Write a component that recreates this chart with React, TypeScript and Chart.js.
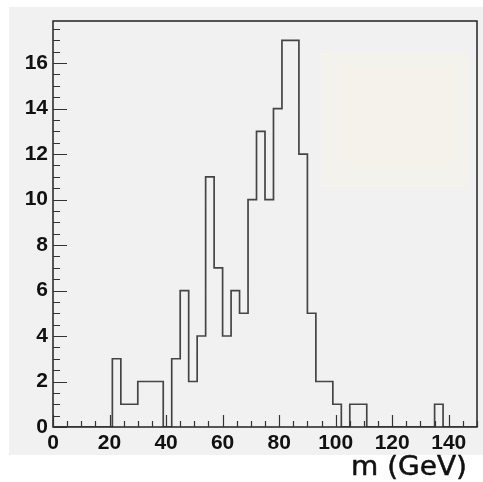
import React, { useEffect, useRef } from "react";
import { Chart, registerables } from "chart.js";

Chart.register(...registerables);

// ---- data ----
const BIN_WIDTH = 3; // GeV
const X_MIN = 0;
const X_MAX = 150;
const Y_MAX = 17.85;
const counts = [
  0, 0, 0, 0, 0, 0, 0, 3, 1, 1,
  2, 2, 2, 0, 3, 6, 2, 4, 11, 7,
  4, 6, 5, 10, 13, 10, 14, 17, 17, 12,
  5, 2, 2, 1, 0, 1, 1, 0, 0, 0,
  0, 0, 0, 0, 0, 1, 0, 0, 0, 0,
];
const xTickValues = [0, 20, 40, 60, 80, 100, 120, 140];
const yTickValues = [0, 2, 4, 6, 8, 10, 12, 14, 16];
const xAxisTitle = "m (GeV)";

const LABEL_FONT = { family: "'Liberation Sans', Arial, sans-serif", weight: "bold" as const, size: 21 };

const decorPlugin = {
  id: "rootDecor",
  beforeDraw(chart: any) {
    const ctx = chart.ctx;
    ctx.save();
    ctx.fillStyle = "#ffffff";
    ctx.fillRect(0, 0, chart.width, chart.height);
    ctx.fillStyle = "#f1f1f1";
    ctx.fillRect(9, 7, chart.width - 9, 448);
    // faint remnant of a stats box
    ctx.fillStyle = "#f3f2ed";
    ctx.fillRect(322, 52, 145, 135);
    ctx.fillStyle = "#f4f2ea";
    ctx.fillRect(343, 67, 112, 100);
    ctx.restore();
  },
  afterDatasetsDraw(chart: any) {
    const ctx = chart.ctx;
    const { left, right, top, bottom } = chart.chartArea;
    const xs = chart.scales.x;
    const ys = chart.scales.y;
    ctx.save();
    ctx.strokeStyle = "#222";
    ctx.lineWidth = 1.5;
    ctx.strokeRect(left, top, right - left, bottom - top);
    ctx.lineWidth = 1.2;
    ctx.strokeStyle = "#333";
    ctx.beginPath();
    for (let v = 0; v <= 17.5 + 1e-9; v += 0.5) {
      const y = Math.round(ys.getPixelForValue(v)) + 0.5;
      const len = Math.abs(v % 2) < 1e-9 ? 14 : 7;
      ctx.moveTo(left, y);
      ctx.lineTo(left + len, y);
    }
    for (let v = X_MIN; v <= X_MAX; v += 5) {
      const x = Math.round(xs.getPixelForValue(v)) + 0.5;
      const len = v % 20 === 0 ? 12 : 6;
      ctx.moveTo(x, bottom);
      ctx.lineTo(x, bottom - len);
    }
    ctx.stroke();
    ctx.restore();
  },
  afterDraw(chart: any) {
    const ctx = chart.ctx;
    ctx.save();
    ctx.font = "26px 'DejaVu Sans', Verdana, sans-serif";
    ctx.fillStyle = "#111";
    ctx.strokeStyle = "#111";
    ctx.lineWidth = 0.5;
    ctx.textBaseline = "alphabetic";
    ctx.textAlign = "left";
    const w = ctx.measureText(xAxisTitle).width;
    const targetW = 116;
    ctx.translate(351, 475);
    ctx.scale(targetW / w, 1);
    ctx.fillText(xAxisTitle, 0, 0);
    ctx.strokeText(xAxisTitle, 0, 0);
    ctx.restore();
  },
};

export default function App() {
  const canvasRef = useRef<HTMLCanvasElement | null>(null);

  useEffect(() => {
    if (!canvasRef.current) return;
    const points = counts.map((c, i) => ({ x: X_MIN + i * BIN_WIDTH, y: c }));
    points.push({ x: X_MAX, y: counts[counts.length - 1] });

    const chart = new Chart(canvasRef.current, {
      type: "line",
      data: {
        datasets: [
          {
            data: points,
            stepped: "before",
            borderColor: "#454545",
            borderWidth: 1.7,
            pointRadius: 0,
            fill: false,
            tension: 0,
          },
        ],
      },
      options: {
        animation: false,
        responsive: false,
        events: [],
        layout: { padding: { left: 0, right: 6, top: 21, bottom: 0 } },
        plugins: { legend: { display: false }, tooltip: { enabled: false }, title: { display: false } },
        scales: {
          x: {
            type: "linear",
            min: X_MIN,
            max: X_MAX,
            grid: { display: false, drawTicks: false },
            border: { display: false },
            ticks: {
              font: LABEL_FONT,
              color: "#111",
              padding: 4,
              autoSkip: false,
              maxRotation: 0,
              includeBounds: false,
            },
            afterBuildTicks: (s: any) => {
              s.ticks = xTickValues.map((v) => ({ value: v }));
            },
            afterFit: (s: any) => {
              s.height = 55;
            },
          },
          y: {
            type: "linear",
            min: 0,
            max: Y_MAX,
            grid: { display: false, drawTicks: false },
            border: { display: false },
            ticks: {
              font: LABEL_FONT,
              color: "#111",
              padding: 5,
              autoSkip: false,
              includeBounds: false,
            },
            afterBuildTicks: (s: any) => {
              s.ticks = yTickValues.map((v) => ({ value: v }));
            },
            afterFit: (s: any) => {
              s.width = 53;
            },
          },
        },
      },
      plugins: [decorPlugin],
    });
    return () => chart.destroy();
  }, []);

  return (
    <div style={{ position: "fixed", left: 0, top: 0, width: 483, height: 482 }}>
      <canvas ref={canvasRef} width={483} height={482} style={{ display: "block", width: 483, height: 482 }} />
    </div>
  );
}
